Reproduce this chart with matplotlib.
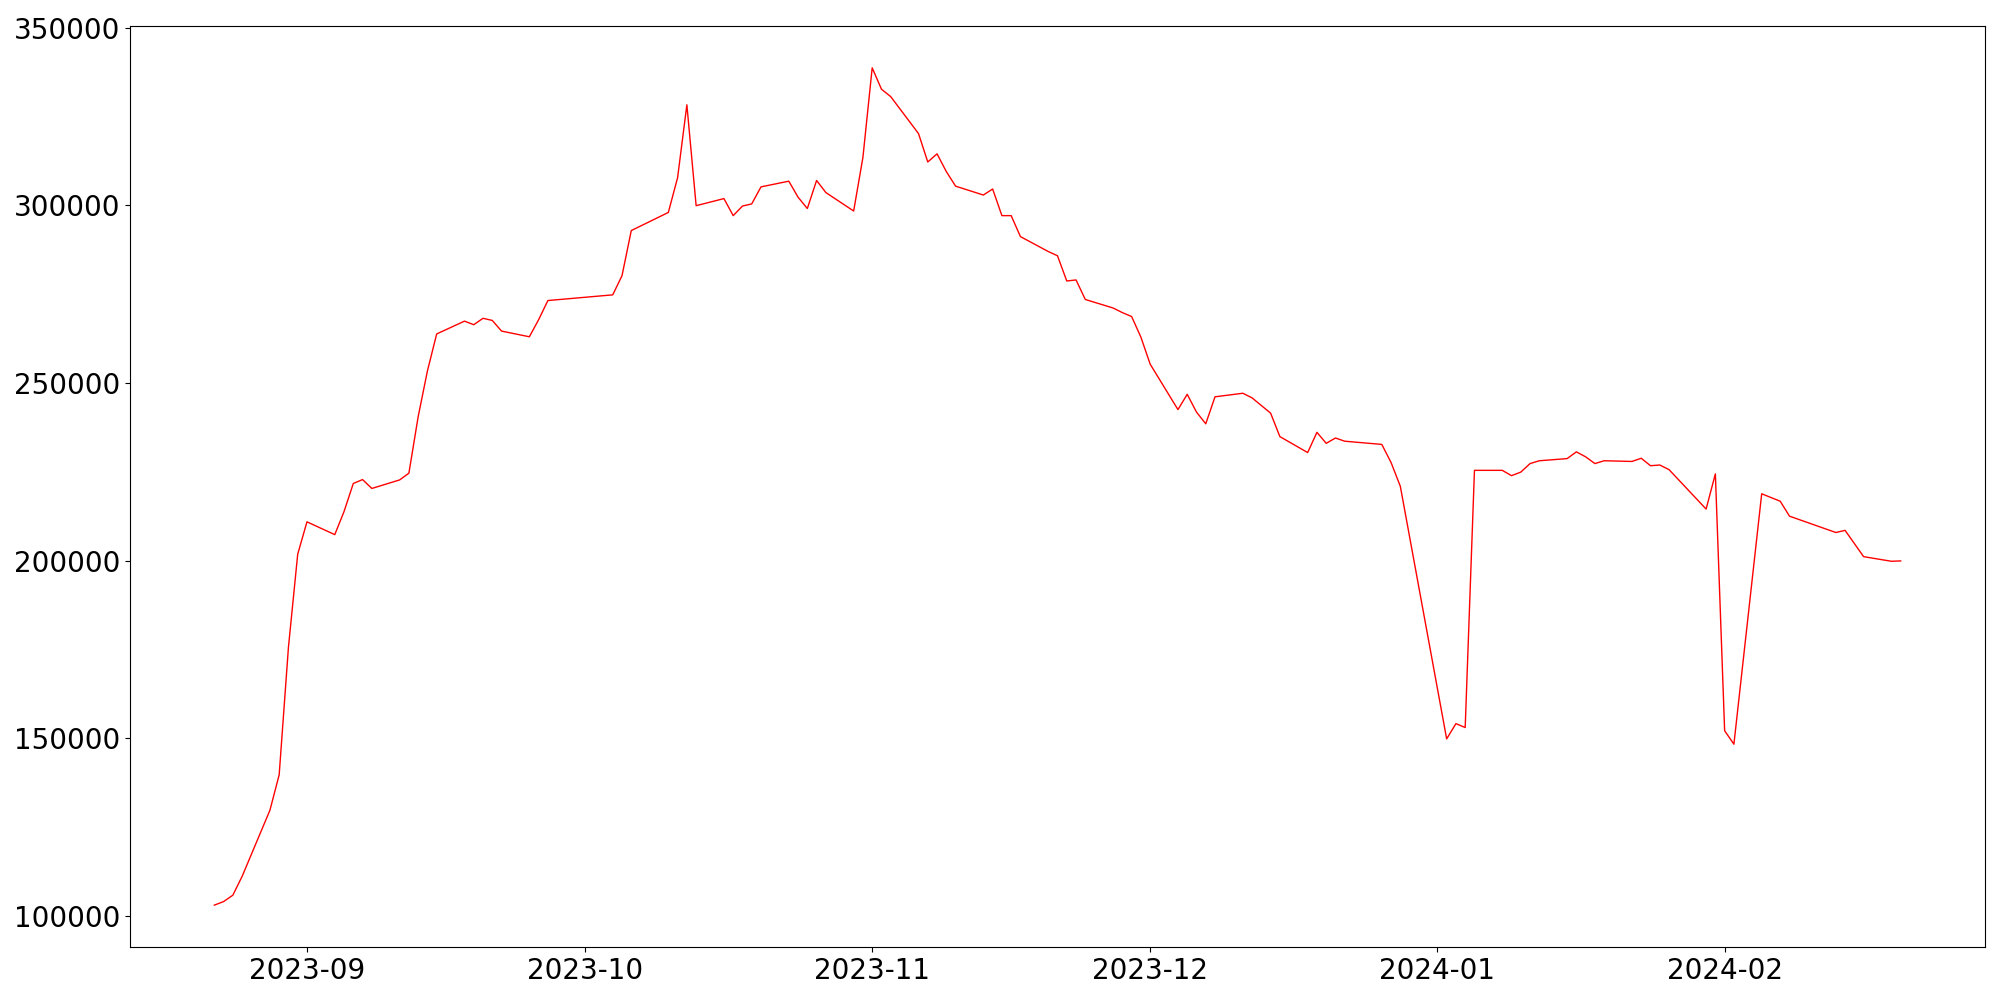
import matplotlib
matplotlib.use("Agg")
import matplotlib.pyplot as plt
import pandas as pd

dates = [
    "2023-08-22", "2023-08-23", "2023-08-24", "2023-08-25", "2023-08-28", "2023-08-29",
    "2023-08-30", "2023-08-31", "2023-09-01", "2023-09-04", "2023-09-05", "2023-09-06",
    "2023-09-07", "2023-09-08", "2023-09-11", "2023-09-12", "2023-09-13", "2023-09-14",
    "2023-09-15", "2023-09-18", "2023-09-19", "2023-09-20", "2023-09-21", "2023-09-22",
    "2023-09-25", "2023-09-26", "2023-09-27", "2023-10-04", "2023-10-05", "2023-10-06",
    "2023-10-10", "2023-10-11", "2023-10-12", "2023-10-13", "2023-10-16", "2023-10-17",
    "2023-10-18", "2023-10-19", "2023-10-20", "2023-10-23", "2023-10-24", "2023-10-25",
    "2023-10-26", "2023-10-27", "2023-10-30", "2023-10-31", "2023-11-01", "2023-11-02",
    "2023-11-03", "2023-11-06", "2023-11-07", "2023-11-08", "2023-11-09", "2023-11-10",
    "2023-11-13", "2023-11-14", "2023-11-15", "2023-11-16", "2023-11-17", "2023-11-20",
    "2023-11-21", "2023-11-22", "2023-11-23", "2023-11-24", "2023-11-27", "2023-11-28",
    "2023-11-29", "2023-11-30", "2023-12-01", "2023-12-04", "2023-12-05", "2023-12-06",
    "2023-12-07", "2023-12-08", "2023-12-11", "2023-12-12", "2023-12-14", "2023-12-15",
    "2023-12-18", "2023-12-19", "2023-12-20", "2023-12-21", "2023-12-22", "2023-12-26",
    "2023-12-27", "2023-12-28", "2024-01-02", "2024-01-03", "2024-01-04", "2024-01-05",
    "2024-01-08", "2024-01-09", "2024-01-10", "2024-01-11", "2024-01-12", "2024-01-15",
    "2024-01-16", "2024-01-17", "2024-01-18", "2024-01-19", "2024-01-22", "2024-01-23",
    "2024-01-24", "2024-01-25", "2024-01-26", "2024-01-30", "2024-01-31", "2024-02-01",
    "2024-02-02", "2024-02-05", "2024-02-07", "2024-02-08", "2024-02-13", "2024-02-14",
    "2024-02-16", "2024-02-19", "2024-02-20",
]

values = [
    103000, 104000, 105800, 111100, 129700, 139700,
    175600, 201800, 210900, 207300, 213800, 221700,
    222800, 220300, 222700, 224600, 240500, 253400,
    263800, 267400, 266400, 268200, 267600, 264600,
    263000, 267800, 273200, 274800, 280200, 292900,
    298000, 307800, 328300, 299900, 301900, 297100,
    299800, 300400, 305200, 306800, 302300, 299100,
    307000, 303600, 298400, 313500, 338700, 332700,
    330600, 320200, 312200, 314500, 309500, 305400,
    302900, 304600, 297100, 297100, 291200, 287000,
    285800, 278700, 279000, 273500, 271100, 269800,
    268700, 262900, 255300, 242500, 246800, 241800,
    238500, 246100, 247100, 245800, 241500, 234900,
    230400, 236100, 233000, 234500, 233600, 232700,
    227600, 220900, 149800, 154100, 153000, 225400,
    225400, 223900, 224900, 227300, 228100, 228700,
    230600, 229200, 227300, 228100, 227900, 228800,
    226700, 226900, 225600, 214500, 224400, 152100,
    148300, 218800, 216700, 212500, 207900, 208500,
    201100, 199800, 199900,
]

x = pd.to_datetime(dates)

fig, ax = plt.subplots(figsize=(20, 10), dpi=100)
fig.subplots_adjust(left=0.065, right=0.9925, top=0.974, bottom=0.053)
ax.plot(x, values, color="red", linewidth=1)
ax.tick_params(axis="both", labelsize=20)
fig.savefig("out.png", dpi=100)
